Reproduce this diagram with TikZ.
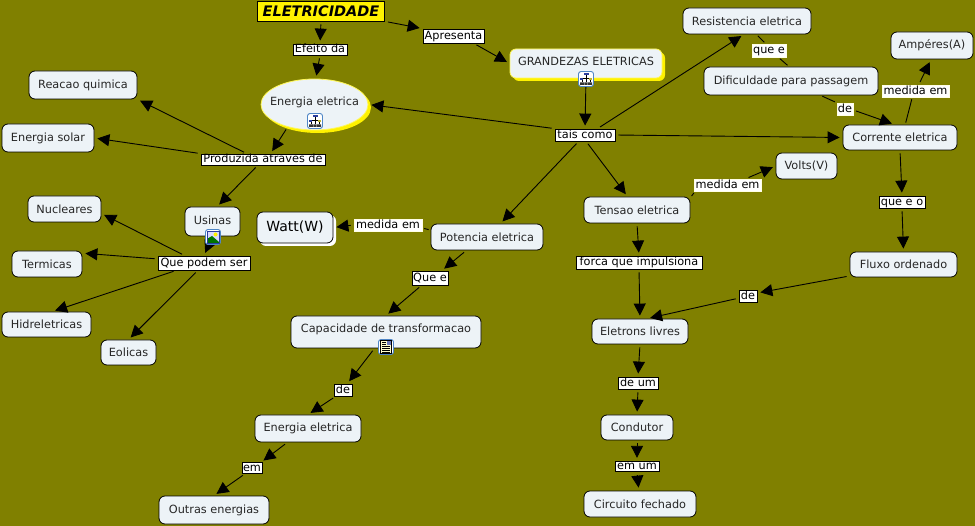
\documentclass[tikz,border=0pt]{standalone}
\usepackage{fontspec}
\setmainfont{DejaVu Sans}
\usetikzlibrary{arrows.meta,shapes.geometric,shadows}
\definecolor{olivebg}{HTML}{808000}
\definecolor{conceptfill}{HTML}{EDF3F7}
\definecolor{icontrim}{HTML}{4F86C6}
\definecolor{iconblue}{HTML}{2C3E9E}
\begin{document}
\begin{tikzpicture}[x=1pt,y=-1pt,font=\fontsize{11.3}{13}\selectfont]
    \tikzstyle{concept} = [draw=black, line width=0.8pt, fill=conceptfill, rounded corners=6pt, text=black!85, inner sep=0pt]
    \tikzstyle{glowing} = [concept, draw=yellow!65!white, drop shadow={shadow xshift=3pt, shadow yshift=-3pt, fill=yellow, opacity=1}]
    \tikzstyle{linkword} = [draw=black, line width=0.8pt, fill=white, inner sep=0pt, text height=8.5pt, text depth=2pt]
    \tikzstyle{freeword} = [draw=white!90!yellow, line width=0.6pt, fill=white, inner sep=0pt, text height=8.5pt, text depth=2pt]
    \tikzstyle{arrowlink} = [line width=0.9pt, -{Triangle[length=12pt,width=12pt]}, shorten <=3pt, shorten >=3pt]
    \tikzstyle{plainlink} = [line width=0.9pt, shorten <=2pt, shorten >=2pt]
    \tikzstyle{iconbox} = [draw=icontrim, line width=0.9pt, fill=white, rounded corners=2.5pt, minimum size=15pt, inner sep=0pt]
    \tikzset{
        hiericon/.pic={
            \fill[iconblue] (-2.5,-6) rectangle (2.5,-3.5);
            \draw[black, line width=0.6pt] (0,-3.5) -- (0,3.5) (-4,-1) -- (4,-1) (-4,-1) -- (-4,3.5) (4,-1) -- (4,3.5);
            \fill[iconblue] (-6,-1) rectangle (-3,1);
            \fill[yellow!70!black] (3,-1) rectangle (6,1);
            \fill[black!80] (-6,3.5) rectangle (-2,6) (-1.5,3.5) rectangle (1.5,6) (2,3.5) rectangle (6,6);
        },
        photoicon/.pic={
            \fill[white!85!blue] (-6,-6) rectangle (6,6);
            \fill[green!45!black] (-6,6) -- (-6,2) -- (-1,-1) -- (6,5) -- (6,6) -- cycle;
            \fill[yellow] (2.5,-2.5) circle (2);
            \draw[iconblue, line width=0.7pt] (-6,-6) rectangle (6,6);
        },
        docicon/.pic={
            \draw[black, fill=yellow!20, line width=0.6pt] (-5.5,-6.5) rectangle (5.5,6.5);
            \fill[iconblue!70] (0.5,-5.5) rectangle (4.5,-1.5);
            \draw[black, line width=0.6pt] (-4,-5) -- (-0.5,-5) (-4,-3) -- (-0.5,-3) (-4,-1) -- (4,-1) (-4,1) -- (4,1) (-4,3) -- (4,3) (-4,5) -- (4,5);
        }
    }
    \fill[olivebg] (0,0) rectangle (975,526);
    \useasboundingbox (0,0) rectangle (975,526);

    % concepts
    \node[draw=black, line width=0.8pt, fill=yellow, inner sep=0pt, minimum width=127pt, minimum height=20pt, font=\fontsize{14.5}{16}\selectfont\bfseries\itshape] (elet) at (321,11) {ELETRICIDADE};
    \node[glowing, ellipse, minimum width=107pt, minimum height=51pt, label={[yshift=2.5pt, text=black!85]center:Energia eletrica}] (energia) at (314.5,104.5) {};
    \node[glowing, minimum width=152pt, minimum height=29pt, text depth=5pt] (grandezas) at (586,63.5) {GRANDEZAS ELETRICAS};
    \node[concept, minimum width=108pt, minimum height=28pt] (reacao) at (83,85) {Reacao quimica};
    \node[concept, minimum width=92pt, minimum height=28pt] (solar) at (48,138) {Energia solar};
    \node[concept, minimum width=55pt, minimum height=29pt, text depth=3pt] (usinas) at (212.5,221.5) {Usinas};
    \node[concept, minimum width=73pt, minimum height=26pt] (nucleares) at (64.5,209) {Nucleares};
    \node[concept, minimum width=70pt, minimum height=26pt] (termicas) at (47,264) {Termicas};
    \node[concept, minimum width=89pt, minimum height=25pt] (hidro) at (46.5,324.5) {Hidreletricas};
    \node[concept, minimum width=55pt, minimum height=25pt] (eolicas) at (128.5,352.5) {Eolicas};
    \node[concept, minimum width=76pt, minimum height=31pt, font=\fontsize{14}{16}\selectfont, text=black, drop shadow={shadow xshift=3pt, shadow yshift=-3pt, fill=white, opacity=1}] (watt) at (295,227.5) {Watt(W)};
    \node[concept, minimum width=112pt, minimum height=26pt] (potencia) at (487,237) {Potencia eletrica};
    \node[concept, minimum width=190pt, minimum height=32pt, text depth=7pt] (capacidade) at (386,332) {Capacidade de transformacao};
    \node[concept, minimum width=106pt, minimum height=27pt] (energiab) at (308,428.5) {Energia eletrica};
    \node[concept, minimum width=110pt, minimum height=28pt] (outras) at (214,510) {Outras energias};
    \node[concept, minimum width=128pt, minimum height=26pt] (resist) at (747,21) {Resistencia eletrica};
    \node[concept, minimum width=174pt, minimum height=28pt] (dificil) at (791,81) {Dificuldade para passagem};
    \node[concept, minimum width=82pt, minimum height=27pt] (amperes) at (932,45.5) {Ampéres(A)};
    \node[concept, minimum width=114pt, minimum height=25pt] (corrente) at (900,137.5) {Corrente eletrica};
    \node[concept, minimum width=61pt, minimum height=26pt] (volts) at (806.5,166) {Volts(V)};
    \node[concept, minimum width=106pt, minimum height=26pt] (tensao) at (637,210) {Tensao eletrica};
    \node[concept, minimum width=107pt, minimum height=25pt] (fluxo) at (903.5,264.5) {Fluxo ordenado};
    \node[concept, minimum width=96pt, minimum height=25pt] (eletrons) at (640,331.5) {Eletrons livres};
    \node[concept, minimum width=72pt, minimum height=25pt] (condutor) at (637,427.5) {Condutor};
    \node[concept, minimum width=112pt, minimum height=26pt] (circuito) at (640,504) {Circuito fechado};

    % link words
    \node[linkword, minimum width=54pt, minimum height=11pt] (efeito) at (320,49.5) {Efeito da};
    \node[linkword, minimum width=61pt, minimum height=14pt] (apresenta) at (453.5,36) {Apresenta};
    \node[linkword, minimum width=60pt, minimum height=12pt] (taiscomo) at (585,135) {tais como};
    \node[linkword, minimum width=124pt, minimum height=11pt] (produzida) at (263,159.5) {Produzida atraves de};
    \node[linkword, minimum width=92pt, minimum height=14pt] (podem) at (204,263) {Que podem ser};
    \node[linkword, minimum width=36pt, minimum height=14pt] (quee) at (430,278) {Que e};
    \node[linkword, minimum width=18pt, minimum height=12pt] (dec) at (343,390) {de};
    \node[linkword, minimum width=20pt, minimum height=10pt] (em) at (252,468) {em};
    \node[linkword, minimum width=126pt, minimum height=13pt] (forca) at (639,262.5) {forca que impulsiona};
    \node[linkword, minimum width=46pt, minimum height=12pt] (queeo) at (902,202) {que e o};
    \node[linkword, minimum width=18pt, minimum height=12pt] (deb) at (748,296) {de};
    \node[linkword, minimum width=40pt, minimum height=12pt] (deum) at (638,383) {de um};
    \node[linkword, minimum width=44pt, minimum height=9pt] (emum) at (637,466.5) {em um};
    \node[freeword, minimum width=34pt, minimum height=13pt] (queres) at (769,50.5) {que e};
    \node[freeword, minimum width=16pt, minimum height=12pt] (dea) at (845,109) {de};
    \node[freeword, minimum width=67pt, minimum height=12pt] (medamp) at (915.5,91) {medida em};
    \node[freeword, minimum width=67pt, minimum height=12pt] (medvolt) at (727.5,185) {medida em};
    \node[freeword, minimum width=68pt, minimum height=12pt] (medwatt) at (388,225) {medida em};

    % arrows
    \foreach \from/\to in {elet.south/efeito.north, efeito.south/energia.87, elet.south east/apresenta.north west,
        apresenta.-20/grandezas.west, grandezas.south/taiscomo.north, taiscomo.north west/energia.east,
        energia.-140/produzida.38, produzida.160/reacao.south east, produzida.north west/solar.east,
        produzida.-132/usinas.73, usinas.south/podem.north, podem.159/nucleares.-7, podem.175/termicas.17,
        podem.-165/hidro.66, podem.-130/eolicas.north, taiscomo.27/resist.-103, taiscomo.east/corrente.west,
        dea.-7/corrente.112, medamp.63/amperes.-94, corrente.south/queeo.north, queeo.south/fluxo.north,
        fluxo.-168/deb.18, deb.-167/eletrons.61, taiscomo.-80/tensao.125, taiscomo.-135/potencia.45,
        medwatt.west/watt.east, potencia.-147/quee.32, quee.-139/capacidade.north, capacidade.-125/dec.56,
        dec.-139/energiab.north, energiab.-146/em.32, em.-140/outras.north, tensao.south/forca.north,
        forca.south/eletrons.north, eletrons.south/deum.north, deum.south/condutor.north,
        condutor.south/emum.north, emum.south/circuito.95, medvolt.19/volts.west} {
        \draw[arrowlink] (\from) -- (\to);
    }
    % lines without a head
    \foreach \from/\to in {resist.-55/queres.115, queres.-36/dificil.98, dificil.-26/dea.north west,
        corrente.68/medamp.-117, potencia.173/medwatt.-5, tensao.13/medvolt.-169} {
        \draw[plainlink] (\from) -- (\to);
    }

    % icons on the concepts
    \node[iconbox] (iconenergia) at (315,121) {};
    \pic at (iconenergia) {hiericon};
    \node[iconbox] (icongrand) at (586,79) {};
    \pic at (icongrand) {hiericon};
    \node[iconbox] (iconusinas) at (213,237) {};
    \pic at (iconusinas) {photoicon};
    \node[iconbox] (iconcapac) at (386,347) {};
    \pic at (iconcapac) {docicon};
\end{tikzpicture}
\end{document}
